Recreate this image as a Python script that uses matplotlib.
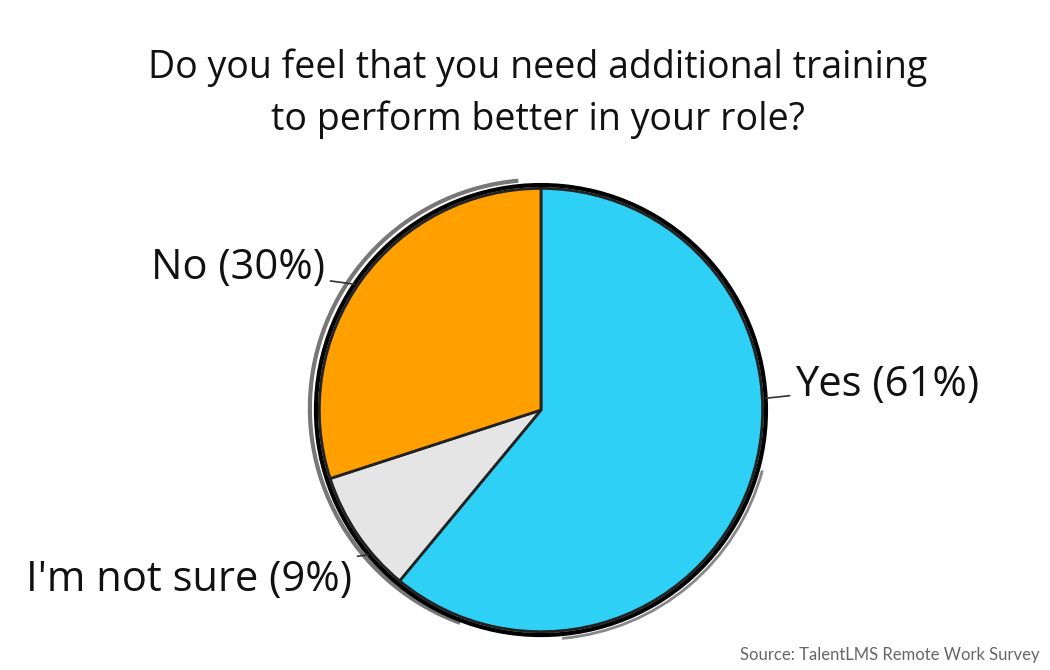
import matplotlib
matplotlib.use("Agg")
import matplotlib.pyplot as plt
from matplotlib.patches import Circle, Arc
import numpy as np

categories = ["Yes", "No", "I'm not sure"]
values = [61, 30, 9]
colors = ["#2ED0F5", "#FF9F00", "#E5E5E5"]
label_texts = ["Yes (61%)", "No (30%)", "I'm not sure (9%)"]
title = "Do you feel that you need additional training\nto perform better in your role?"
source = "Source: TalentLMS Remote Work Survey"

plt.rcParams['font.family'] = ['Open Sans', 'DejaVu Sans']

fig = plt.figure(figsize=(10.5, 6.7), dpi=100)
ax = fig.add_axes([0.3009, 0.052, 0.4286, 0.672])

# order: Yes clockwise from top, then not sure, then No
order = [0, 2, 1]
wedges, _ = ax.pie([values[i] for i in order], colors=[colors[i] for i in order],
                   startangle=90, counterclock=False, radius=0.985,
                   wedgeprops=dict(edgecolor="#222222", linewidth=2))
ax.set_xlim(-1, 1)
ax.set_ylim(-1, 1)
ax.set_aspect('equal')
ax.axis('off')

# sketchy outlines
ax.add_patch(Arc((-0.012, 0.008), 2.03, 2.03, theta1=95, theta2=250, color="#777777", lw=3, clip_on=False))
ax.add_patch(Arc((0.006, -0.006), 2.025, 2.025, theta1=275, theta2=345, color="#888888", lw=2, clip_on=False))
ax.add_patch(Circle((0, 0), 1.0, fill=False, edgecolor="black", lw=3, clip_on=False))

# labels with leader lines
anchor_angles = {"Yes": 3, "No": 146, "I'm not sure": -140}
text_pos = {"Yes": (1.13, 0.11, "left"), "No": (-0.96, 0.63, "right"), "I'm not sure": (-0.84, -0.755, "right")}
for cat, lab in zip(categories, label_texts):
    a = np.deg2rad(anchor_angles[cat])
    x0, y0 = np.cos(a) * 1.0, np.sin(a) * 1.0
    tx, ty, ha = text_pos[cat]
    ax.annotate(lab, xy=(x0, y0), xytext=(tx, ty), ha=ha, va="center",
                fontsize=30, color="#111111", annotation_clip=False,
                arrowprops=dict(arrowstyle="-", color="#333333", lw=1.2,
                                shrinkA=2, shrinkB=0))

fig.text(0.512, 0.86, title, ha="center", va="center", fontsize=27,
         color="#111111", linespacing=1.45)
fig.text(0.99, 0.022, source, ha="right", va="center", fontsize=12,
         color="#666666", family=['Lato', 'DejaVu Sans'])

fig.savefig("out.png", dpi=100, facecolor="white")
